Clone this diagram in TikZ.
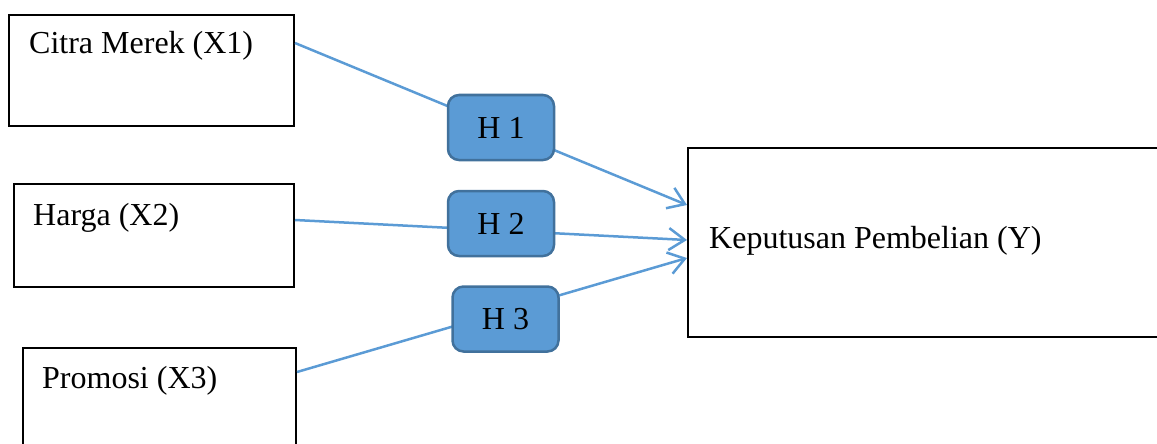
\documentclass[tikz,border=0pt]{standalone}
\usepackage{fontspec}
\setmainfont{Liberation Serif}
\usetikzlibrary{arrows.meta}
\definecolor{linkblue}{HTML}{5B9BD5}
\definecolor{hfill}{HTML}{5B9BD5}
\definecolor{hborder}{HTML}{41719C}
\tikzset{
  varbox/.style={draw=black, line width=2pt, rectangle, inner sep=0pt, anchor=north west},
  varlabel/.style={anchor=base west, inner sep=0pt, font=\fontsize{32}{36}\selectfont},
  hypbox/.style={draw=hborder, fill=hfill, line width=2.5pt, rounded corners=11pt,
    minimum width=106pt, minimum height=65pt, inner sep=0pt,
    font=\fontsize{32}{36}\selectfont},
  link/.style={draw=linkblue, line width=2.5pt,
    -{Straight Barb[length=16pt, width=22pt, line width=2.5pt]}}
}
\begin{document}
\begin{tikzpicture}[x=1pt, y=-1pt]
  \clip (0,0) rectangle (1157,444);
  % variable boxes
  \node[varbox, minimum width=285pt, minimum height=111pt] (x1) at (8,14) {};
  \node[varbox, minimum width=280pt, minimum height=103pt] (x2) at (13,183) {};
  \node[varbox, minimum width=273pt, minimum height=120pt] (x3) at (22,347) {};
  \node[varbox, minimum width=490pt, minimum height=189pt] (y) at (687,147) {};
  % box captions
  \node[varlabel] (tx1) at (29,54) {Citra Merek (X1)};
  \node[varlabel] (tx2) at (33,225) {Harga (X2)};
  \node[varlabel] (tx3) at (42,388) {Promosi (X3)};
  \node[varlabel] (ty) at (709,248) {Keputusan Pembelian (Y)};
  % links from each variable to the outcome
  \draw[link] ([yshift=-29pt]x1.north east) -- ([yshift=-58pt]y.north west);
  \draw[link] ([yshift=-37pt]x2.north east) -- ([yshift=-93pt]y.north west);
  \draw[link] ([yshift=-25pt]x3.north east) -- ([yshift=-111pt]y.north west);
  % hypothesis labels sitting on the links
  \node[hypbox] (h1) at (501,127.5) {H 1};
  \node[hypbox] (h2) at (501,223.5) {H 2};
  \node[hypbox] (h3) at (505.5,319) {H 3};
\end{tikzpicture}
\end{document}
